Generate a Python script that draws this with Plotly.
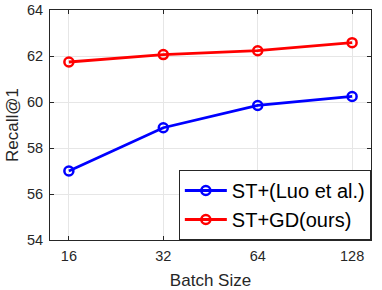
import plotly.graph_objects as go
import math

batch_sizes = [16, 32, 64, 128]
st_luo = [57.0, 58.88, 59.85, 60.24]
st_gd = [61.74, 62.06, 62.23, 62.58]
tick_labels = ["16", "32", "64", "128"]

fig = go.Figure()
fig.add_trace(go.Scatter(x=batch_sizes, y=st_luo, mode="lines+markers", name="ST+(Luo et al.)",
                         line=dict(color="#0000ff", width=2.8),
                         marker=dict(symbol="circle-open", size=9, color="#0000ff", line=dict(width=2.5))))
fig.add_trace(go.Scatter(x=batch_sizes, y=st_gd, mode="lines+markers", name="ST+GD(ours)",
                         line=dict(color="#ff0000", width=2.8),
                         marker=dict(symbol="circle-open", size=9, color="#ff0000", line=dict(width=2.5))))

axis_common = dict(showline=True, linecolor="#262626", linewidth=1, mirror="ticks",
                   ticks="inside", ticklen=4, tickcolor="#262626",
                   showgrid=True, gridcolor="#e6e6e6", gridwidth=1, zeroline=False,
                   automargin=False,
                   tickfont=dict(family="Liberation Sans, Arial", size=14.5, color="#262626"))

fig.update_layout(
    width=382, height=290,
    margin=dict(l=50, r=11, t=10, b=50, autoexpand=False),
    paper_bgcolor="white", plot_bgcolor="white",
    font=dict(family="Liberation Sans, Arial", color="#262626"),
    xaxis=dict(type="log", range=[3.8 * math.log10(2), 7.2 * math.log10(2)],
               tickvals=batch_sizes, ticktext=tick_labels, ticklabelstandoff=3,
               title=dict(text="Batch Size", font=dict(size=17), standoff=14), **axis_common),
    yaxis=dict(range=[54, 64], tickvals=[54, 56, 58, 60, 62, 64], ticklabelstandoff=3,
               title=dict(text="Recall@1", font=dict(size=17), standoff=4), **axis_common),
    legend=dict(x=0.9995, y=0.0, xanchor="right", yanchor="bottom",
                bordercolor="#262626", borderwidth=1, bgcolor="white",
                font=dict(family="Liberation Sans, Arial", size=20, color="#000000"),
                tracegroupgap=0, itemwidth=42),
    showlegend=True,
)

fig.write_html("out.html", config={"displayModeBar": False},
               post_script="document.body.style.margin='0';document.body.style.padding='0';")
